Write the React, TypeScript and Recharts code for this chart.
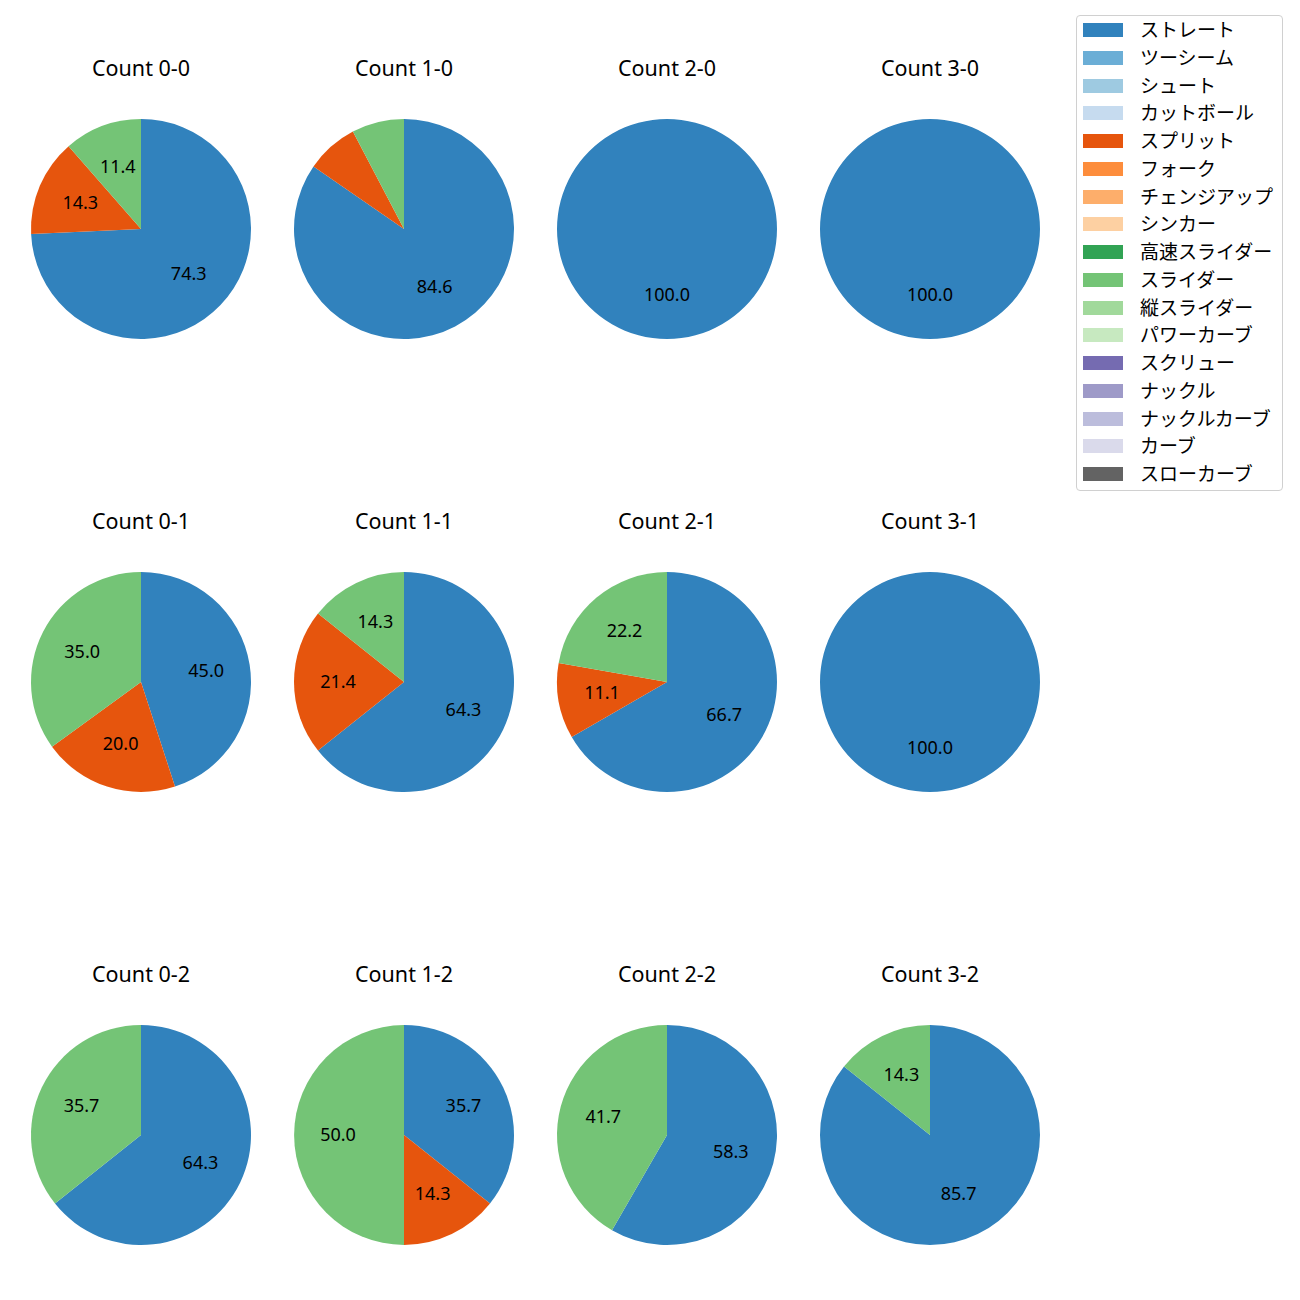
import { PieChart, Pie, Cell } from "recharts"

const categories = [
  "ストレート", "ツーシーム", "シュート", "カットボール", "スプリット", "フォーク",
  "チェンジアップ", "シンカー", "高速スライダー", "スライダー", "縦スライダー",
  "パワーカーブ", "スクリュー", "ナックル", "ナックルカーブ", "カーブ", "スローカーブ",
]
const colors = [
  "#3182bd", "#6baed6", "#9ecae1", "#c6dbef", "#e6550d", "#fd8d3c",
  "#fdae6b", "#fdd0a2", "#31a354", "#74c476", "#a1d99b", "#c7e9c0",
  "#756bb1", "#9e9ac8", "#bcbddc", "#dadaeb", "#636363",
]

// counts, row by row (strikes), columns = balls
const counts = ["0-0", "1-0", "2-0", "3-0", "0-1", "1-1", "2-1", "3-1", "0-2", "1-2", "2-2", "3-2"]
const straight = [26, 11, 1, 1, 9, 9, 6, 1, 9, 5, 7, 6]
const split = [5, 1, 0, 0, 4, 3, 1, 0, 0, 2, 0, 0]
const slider = [4, 1, 0, 0, 7, 2, 2, 0, 5, 7, 5, 1]

const FONT = "'Noto Sans', 'Noto Sans CJK JP', sans-serif"
const colX = [141, 404, 667, 930]
const rowY = [229, 682, 1135]
const R = 110

const RAD = Math.PI / 180

function renderLabel(p: any) {
  const pct = p.percent * 100
  if (pct < 10) return null
  const r = p.outerRadius * 0.6
  const x = p.cx + r * Math.cos(-p.midAngle * RAD)
  const y = p.cy + r * Math.sin(-p.midAngle * RAD) - 1.5
  return (
    <text x={x} y={y} textAnchor="middle" dominantBaseline="central" fill="#000" fontSize={18} fontFamily={FONT}>
      {pct.toFixed(1)}
    </text>
  )
}

function LegendBox() {
  return (
    <div style={{ position: "absolute", left: 1076, top: 15, width: 205, height: 474, border: "1px solid #d0d0d0", borderRadius: 4, background: "#fff", fontFamily: FONT }}>
      {categories.map((c, i) => (
        <div key={c} style={{ position: "absolute", left: 6, top: 7 + i * 27.75, height: 14, display: "flex", alignItems: "center" }}>
          <div style={{ width: 40, height: 14, background: colors[i] }} />
          <span style={{ marginLeft: 17, fontSize: 19, lineHeight: "14px", color: "#000", whiteSpace: "nowrap" }}>{c}</span>
        </div>
      ))}
    </div>
  )
}

export default function App() {
  return (
    <div style={{ position: "absolute", left: 0, top: 0, width: 1300, height: 1300, background: "#fff" }}>
      <PieChart width={1300} height={1300} margin={{ top: 0, right: 0, bottom: 0, left: 0 }} style={{ position: "absolute", left: 0, top: 0 }}>
        {counts.map((c, i) => {
          const data = [
            { name: categories[0], value: straight[i], color: colors[0] },
            { name: categories[4], value: split[i], color: colors[4] },
            { name: categories[9], value: slider[i], color: colors[9] },
          ]
          return (
            <Pie
              key={c}
              data={data}
              dataKey="value"
              nameKey="name"
              cx={colX[i % 4]}
              cy={rowY[Math.floor(i / 4)]}
              outerRadius={R}
              startAngle={90}
              endAngle={-270}
              stroke="none"
              label={renderLabel}
              labelLine={false}
              isAnimationActive={false}
            >
              {data.map((d) => (
                <Cell key={d.name} fill={d.color} />
              ))}
            </Pie>
          )
        })}
      </PieChart>
      {counts.map((c, i) => (
        <div
          key={c}
          style={{
            position: "absolute",
            left: colX[i % 4] - 100,
            top: rowY[Math.floor(i / 4)] - 173,
            width: 200,
            textAlign: "center",
            fontFamily: FONT,
            fontSize: 21.5,
            lineHeight: "24px",
            color: "#000",
          }}
        >
          Count {c}
        </div>
      ))}
      <LegendBox />
    </div>
  )
}
